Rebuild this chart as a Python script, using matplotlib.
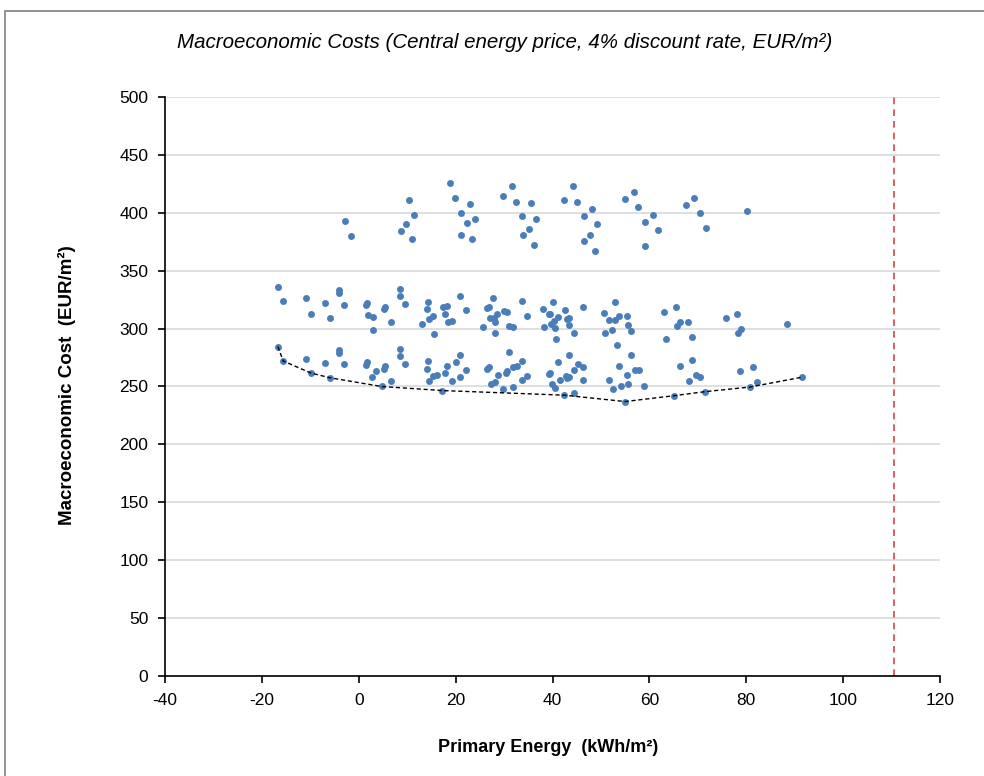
import matplotlib
matplotlib.use("Agg")
import matplotlib.pyplot as plt
from matplotlib.patches import Rectangle

plt.rcParams["font.family"] = ["Liberation Sans", "DejaVu Sans"]
plt.rcParams["axes.unicode_minus"] = False

# Scatter data (primary energy kWh/m², macroeconomic cost EUR/m²)
top_x = [-2.8, -1.7, 18.9, 10.4, 19.9, 31.6, 29.8, 32.5, 22.9, 11.3, 21.2, 9.8, 23.9, 22.4,
         8.7, 10.9, 21.2, 23.4, 33.8, 33.9, 35.6, 36.5, 35.1, 36.1, 44.2, 42.4, 45.1, 48.1,
         46.4, 49.1, 47.7, 46.5, 48.7, 56.8, 55.0, 57.7, 60.7, 59.0, 61.7, 59.1, 69.3, 67.6,
         70.4, 71.6, 80.1]
top_y = [393, 380, 426, 411, 412.5, 423, 414.5, 409, 408, 398, 400, 390, 395, 391,
         384, 377, 381, 377, 397, 381, 408.5, 395, 386, 372.5, 423, 411, 409.5, 403,
         397, 390, 380.5, 376, 367, 418, 412, 405, 398.5, 392, 385, 371, 413, 407,
         400, 387, 401.5]

mid_x = [-16.7, -15.6, -10.9, -9.8, -7.0, -5.9, -4.1, -4.1, -3.0, 1.4, 1.7, 2.0, 2.9, 2.9,
         5.2, 5.5, 6.7, 8.5, 8.5, 9.6, 13.0, 14.3, 14.0, 14.6, 15.4, 15.5, 17.4, 18.2, 17.8,
         18.4, 19.2, 21.0, 22.2, 25.6, 26.5, 26.9, 27.7, 27.1, 27.9, 28.6, 28.1, 28.1, 30.0,
         30.7, 31.0, 31.8, 33.7, 34.8, 38.0, 38.2, 39.2, 39.5, 40.2, 39.7, 40.4, 41.2, 40.6,
         40.7, 42.6, 42.9, 43.4, 43.5, 44.4, 46.2, 50.6, 52.9, 51.7, 53.0, 53.8, 55.3, 55.6,
         50.8, 52.3, 56.2, 53.3, 63.0, 63.4, 65.4, 66.4, 65.6, 67.9, 68.8, 75.8, 78.1, 79.0,
         78.2, 88.4]
mid_y = [336, 323.5, 326, 313, 322, 309, 333, 330.5, 320.5, 320, 322.5, 311.5, 310, 298.5,
         316.5, 319, 306, 334, 328, 321, 304, 323, 317, 308, 311, 295.5, 318.5, 319.5, 313,
         305.5, 306.5, 328.5, 316, 301, 317.5, 318.5, 326, 309, 309, 312.5, 305.5, 296, 315.5,
         314.5, 302, 301.5, 323.5, 311, 317, 301, 312.5, 313, 323, 304, 306.5, 310, 300.5,
         291, 316, 308.5, 309, 303, 296.5, 318.5, 313.5, 323, 307.5, 307, 310.5, 311, 303.5,
         296, 299, 298, 286, 314.5, 291, 318.5, 305.5, 302, 305.5, 292.5, 309.5, 313, 300,
         296.5, 304]

low_x = [-16.7, -15.6, -10.9, -9.8, -7.0, -5.9, -4.1, -4.1, -3.0, 1.4, 1.7, 3.6, 2.8, 4.7,
         5.2, 5.5, 6.7, 8.5, 8.5, 9.6, 14.3, 14.0, 14.6, 15.4, 16.2, 17.2, 17.8, 18.2, 19.2,
         20.1, 21.0, 21.0, 22.2, 26.5, 26.9, 27.2, 28.1, 28.8, 29.8, 30.3, 30.7, 31.0, 31.8,
         31.8, 32.7, 33.7, 33.6, 34.8, 39.2, 39.5, 41.1, 39.8, 40.6, 41.5, 42.8, 43.0, 43.4,
         43.5, 44.4, 45.3, 46.2, 46.2, 42.4, 44.4, 51.7, 52.4, 53.7, 54.1, 55.4, 55.6, 56.1,
         57.0, 57.9, 58.8, 55.0, 66.3, 68.7, 68.1, 69.6, 70.4, 65.0, 71.4, 78.8, 81.3, 80.7,
         82.2, 91.5]
low_y = [284.5, 272, 274, 261.5, 270.5, 257.5, 281.5, 279, 269, 268.5, 271, 263, 258, 250,
         265, 267.5, 254.5, 282, 276.5, 269.5, 272, 265.5, 255, 259, 259.5, 246.5, 261.5, 267.5, 255,
         271.5, 277, 258, 264, 265.5, 266.5, 252, 254, 260, 247.5, 262, 263, 280, 249.5,
         266.5, 268, 272, 255.5, 259, 261, 261.5, 271, 252.5, 248.5, 255.5, 259, 257, 258,
         277, 264, 269, 266.5, 255.5, 242.5, 244.5, 256, 247.5, 267.5, 250, 259.5, 252, 277.5,
         264, 264, 250.5, 237, 268, 272.5, 254.5, 259.5, 258.5, 242, 245.5, 263, 267, 249.5,
         254, 258]

# cost-optimal frontier
front_x = [-16.7, -15.6, -9.8, -5.9, 4.7, 17.2, 42.4, 55.0, 65.0, 71.4, 80.7, 91.5]
front_y = [284.5, 272, 261.5, 257.5, 250, 246.5, 242.5, 237, 242, 245.5, 249.5, 258]

nzeb_limit = 110.5

xs = top_x + mid_x + low_x
ys = top_y + mid_y + low_y

fig = plt.figure(figsize=(9.84, 7.76), dpi=100)
ax = fig.add_axes([0.1677, 0.1289, 0.7876, 0.7461])

# outer chart border
fig.patches.append(Rectangle((5 / 984, -0.1), 1.2, 1 - 11 / 776 + 0.1,
                             transform=fig.transFigure, fill=False,
                             edgecolor="#7f7f7f", linewidth=1.2))

ax.scatter(xs, ys, s=25, color="#4a7ebb", zorder=3, linewidths=0)
ax.plot(front_x, front_y, color="black", linestyle=(0, (3, 2)), linewidth=1, zorder=4)
ax.axvline(nzeb_limit, color="#d04848", linestyle=(0, (4, 3)), linewidth=1.2, zorder=2)

ax.set_xlim(-40, 120)
ax.set_ylim(0, 500)
ax.set_xticks(range(-40, 121, 20))
ax.set_yticks(range(0, 501, 50))
ax.yaxis.grid(True, color="#d9d9d9", linewidth=1.2)
ax.set_axisbelow(True)
for side in ["top", "right"]:
    ax.spines[side].set_visible(False)
for side in ["left", "bottom"]:
    ax.spines[side].set_linewidth(1.2)
ax.tick_params(axis="both", labelsize=12.5, direction="out", length=5, width=1.2, pad=7)

fig.text(548 / 984, 1 - 747 / 776, "Primary Energy  (kWh/m²)",
         ha="center", va="center", fontsize=13, fontweight="bold")
fig.text(67 / 984, 1 - 385 / 776, "Macroeconomic Cost  (EUR/m²)", rotation=90,
         ha="center", va="center", fontsize=13.5, fontweight="bold")
fig.text(0.513, 1 - 42 / 776, "Macroeconomic Costs (Central energy price, 4% discount rate, EUR/m²)",
         ha="center", va="center", fontsize=14.8, fontstyle="italic")

fig.savefig("out.png", dpi=100)
